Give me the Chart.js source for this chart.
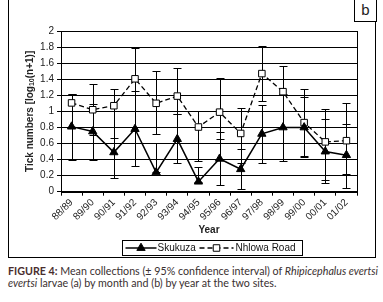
<!DOCTYPE html>
<html>
<head>
<meta charset="utf-8">
<script src="https://cdn.jsdelivr.net/npm/chart.js@4.4.1/dist/chart.umd.min.js"></script>
<style>
  body { margin: 0; background: #fff; }
  #wrap { position: relative; width: 383px; height: 302px; overflow: hidden; }
  #frame { position: absolute; left: 8px; top: -1px; width: 368px; height: 259px; border: 1px solid #000; box-sizing: border-box; }
  #chartbox { position: absolute; left: 9px; top: 0px; width: 367px; height: 258px; }
  #tag { position: absolute; left: 354px; top: -1px; width: 23px; height: 23px; border: 1px solid #000; box-sizing: border-box;
         font: 15px "Liberation Sans", Arial, sans-serif; color: #222; text-align: center; line-height: 20px; background: #fff; }
  #caption { position: absolute; left: 8px; top: 265px; font: 10.7px Lato, "Open Sans", sans-serif; color: #3a3030; line-height: 11.5px; white-space: nowrap; }
  #caption b { color: #4a2e2e; }
</style>
</head>
<body>
<div id="wrap">
  <div id="frame"></div>
  <div id="chartbox"><canvas id="yearcanvas" width="367" height="258"></canvas></div>
  <div id="tag">b</div>
  <div id="caption"><b>FIGURE 4:</b> Mean collections (± 95% confidence interval) of <i>Rhipicephalus evertsi</i><br><i>evertsi</i> larvae (a) by month and (b) by year at the two sites.</div>
</div>
<script>
// years on the x axis
let years = ['88/89', '89/90', '90/91', '91/92', '92/93', '93/94', '94/95', '95/96', '96/97', '97/98', '98/99', '99/00', '00/01', '01/02'];

// Skukuza means and 95% CI
let skukuza     = [0.81, 0.75, 0.49, 0.78, 0.24, 0.655, 0.125, 0.41, 0.28, 0.72, 0.80, 0.80, 0.50, 0.455];
let skukuzaLow  = [0.40, 0.40, 0.17, 0.32, 0.24, 0.36, 0.125, 0.08, 0.03, 0.36, 0.38, 0.43, 0.105, 0.05];
let skukuzaHigh = [1.22, 1.09, 0.805, 1.25, 0.61, 0.97, 0.31, 0.74, 0.53, 1.08, 1.22, 1.175, 0.905, 0.84];

// Nhlowa Road means and 95% CI
let nhlowa     = [1.105, 1.02, 1.07, 1.405, 1.10, 1.19, 0.805, 0.99, 0.725, 1.47, 1.245, 0.86, 0.62, 0.635];
let nhlowaLow  = [1.0, 0.70, 0.67, 1.0, 0.72, 0.97, 0.38, 0.66, 0.36, 1.13, 1.0, 0.44, 0.146, 0.22];
let nhlowaHigh = [1.22, 1.34, 1.28, 1.79, 1.50, 1.54, 1.01, 1.41, 1.04, 1.81, 1.56, 1.28, 1.03, 1.105];

// y axis range
let yMin = 0, yMax = 2, yStep = 0.2;

const axisFont = { family: '"Liberation Sans", Arial, sans-serif', size: 10 };

// error bars (drawn under the markers)
const errorBars = {
    id: 'errorBars',
    beforeDatasetsDraw(chart) {
        let ctx = chart.ctx;
        let yScale = chart.scales.y;
        ctx.save();
        ctx.strokeStyle = '#000';
        ctx.lineWidth = 1;
        chart.data.datasets.forEach(function(ds, i) {
            let meta = chart.getDatasetMeta(i);
            meta.data.forEach(function(pt, j) {
                let x = Math.round(pt.x) + 0.5;
                let yl = Math.round(yScale.getPixelForValue(ds.lows[j])) + 0.5;
                let yh = Math.round(yScale.getPixelForValue(ds.highs[j])) + 0.5;
                ctx.beginPath();
                ctx.moveTo(x, yl); ctx.lineTo(x, yh);
                ctx.moveTo(x - 4, yl); ctx.lineTo(x + 4, yl);
                ctx.moveTo(x - 4, yh); ctx.lineTo(x + 4, yh);
                ctx.stroke();
            });
        });
        ctx.restore();
    }
};

// plot border + y title with subscript + boxed legend
const extras = {
    id: 'extras',
    beforeDatasetsDraw(chart) {
        let a = chart.chartArea;
        let ctx = chart.ctx;
        ctx.save();
        ctx.strokeStyle = '#000';
        ctx.lineWidth = 1;
        ctx.strokeRect(Math.round(a.left) + 0.5, Math.round(a.top) + 0.5, Math.round(a.right - a.left), Math.round(a.bottom - a.top));
        ctx.restore();
    },
    afterDraw(chart) {
        let a = chart.chartArea;
        let ctx = chart.ctx;
        ctx.save();
        // y axis title
        let parts = [
            { t: 'Tick numbers [log', f: 'bold 10px "Liberation Sans", Arial, sans-serif', dy: 0 },
            { t: '10', f: 'bold 7px "Liberation Sans", Arial, sans-serif', dy: 2.5 },
            { t: '(n+1)]', f: 'bold 10px "Liberation Sans", Arial, sans-serif', dy: 0 }
        ];
        let total = 0;
        parts.forEach(function(p) { ctx.font = p.f; p.w = ctx.measureText(p.t).width; total += p.w; });
        ctx.translate(21, (a.top + a.bottom) / 2);
        ctx.rotate(-Math.PI / 2);
        ctx.fillStyle = '#222';
        ctx.textBaseline = 'middle';
        let px = -total / 2;
        parts.forEach(function(p) { ctx.font = p.f; ctx.fillText(p.t, px, p.dy); px += p.w; });
        ctx.restore();

        // legend
        ctx.save();
        let cx = (a.left + a.right) / 2;
        let bx = Math.round(cx - 87) + 0.5;
        let by = 240.5;
        ctx.strokeStyle = '#000';
        ctx.lineWidth = 1;
        ctx.strokeRect(bx, by, 180, 15);
        let my = by + 7.5;
        let items = [
            { ds: chart.data.datasets[0], x0: 3, x1: 34, tx: 35 },
            { ds: chart.data.datasets[1], x0: 77, x1: 111, tx: 113 }
        ];
        items.forEach(function(it) {
            ctx.beginPath();
            ctx.setLineDash(it.ds.borderDash || []);
            ctx.lineWidth = it.ds.borderWidth;
            ctx.moveTo(bx + it.x0, my); ctx.lineTo(bx + it.x1, my);
            ctx.stroke();
            ctx.setLineDash([]);
            ctx.lineWidth = 1;
            ctx.fillStyle = it.ds.pointBackgroundColor;
            Chart.helpers.drawPoint(ctx, { pointStyle: it.ds.pointStyle, radius: it.ds.pointRadius, borderWidth: 1 }, bx + (it.x0 + it.x1) / 2, my);
            ctx.fillStyle = '#111';
            ctx.font = '10px "Liberation Sans", Arial, sans-serif';
            ctx.textBaseline = 'middle';
            ctx.fillText(it.ds.label, bx + it.tx, my + 0.5);
        });
        ctx.restore();
    }
};

let yearCanvas = document.getElementById('yearcanvas').getContext('2d');

let yearChart = new Chart(yearCanvas, {
    type: 'line',
    data: {
        labels: years,
        datasets: [{
            label: 'Skukuza',
            data: skukuza,
            lows: skukuzaLow,
            highs: skukuzaHigh,
            borderColor: '#000',
            borderWidth: 1.5,
            pointStyle: 'triangle',
            pointRadius: 4.8,
            pointBackgroundColor: '#000',
            pointBorderColor: '#000',
            pointBorderWidth: 1,
            tension: 0
        }, {
            label: 'Nhlowa Road',
            data: nhlowa,
            lows: nhlowaLow,
            highs: nhlowaHigh,
            borderColor: '#000',
            borderWidth: 1.3,
            borderDash: [5, 3],
            pointStyle: 'rect',
            pointRadius: 4.6,
            pointBackgroundColor: '#fff',
            pointBorderColor: '#000',
            pointBorderWidth: 1,
            tension: 0
        }]
    },
    plugins: [errorBars, extras],
    options: {
        responsive: false,
        animation: false,
        layout: { padding: { top: 31, right: 19, bottom: 18, left: 0 } },
        plugins: {
            legend: { display: false },
            tooltip: { enabled: false }
        },
        scales: {
            x: {
                offset: true,
                grid: { offset: true, drawOnChartArea: false, drawTicks: true, tickLength: 4, color: '#000' },
                border: { color: '#000' },
                ticks: { color: '#222', font: axisFont, minRotation: 45, maxRotation: 45, autoSkip: false, padding: 1 },
                title: { display: true, text: 'Year', color: '#222', font: { family: axisFont.family, size: 10, weight: 'bold' }, padding: { top: 0, bottom: 4 } },
                afterFit: function(scale) { scale.height = 48.3; }
            },
            y: {
                min: yMin,
                max: yMax,
                grid: { color: '#000', tickLength: 4 },
                border: { color: '#000' },
                ticks: {
                    stepSize: yStep, color: '#222', font: axisFont, padding: 3,
                    callback: function(v) { return String(Math.round(v * 10) / 10); }
                },
                afterFit: function(scale) { scale.width = 52; }
            }
        }
    }
});
</script>
</body>
</html>
